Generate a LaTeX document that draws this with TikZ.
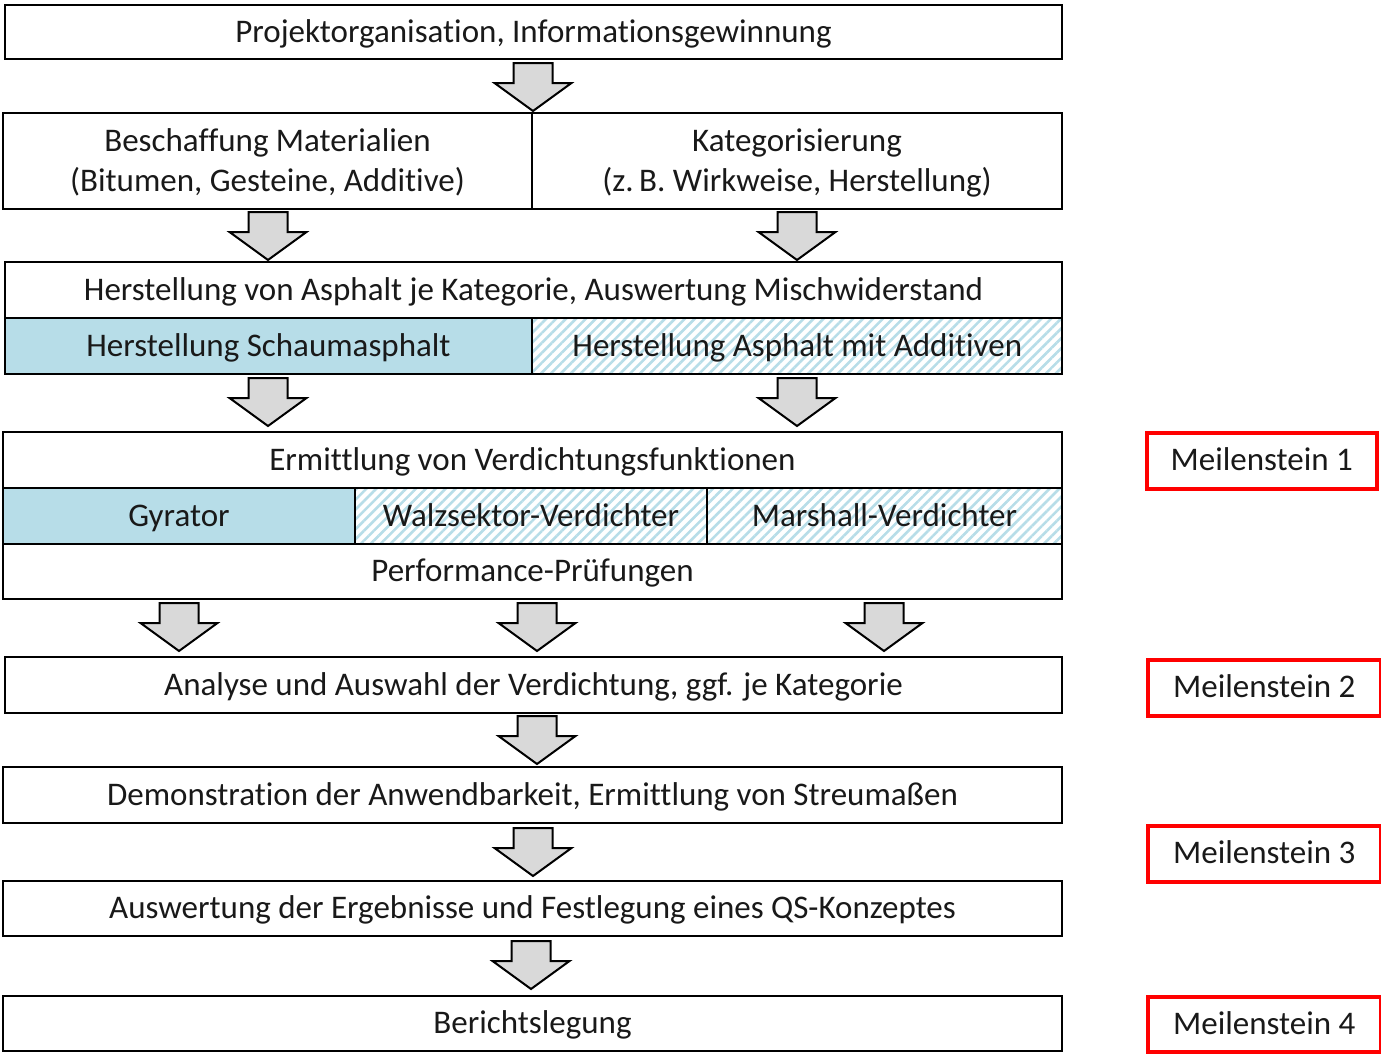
\documentclass[tikz,border=0pt]{standalone}
\usepackage{fontspec}
\setmainfont{Carlito}[Ligatures={NoCommon,NoContextual}]
\usetikzlibrary{patterns.meta}
\definecolor{lblue}{HTML}{B7DDE8}
\definecolor{agray}{HTML}{D9D9D9}
\definecolor{mred}{HTML}{FF0000}
\newcommand\lnstrutA{\rule[-9pt]{0pt}{39pt}}
\newcommand\lnstrutB{\rule[-9pt]{0pt}{31pt}}
\begin{document}
\begin{tikzpicture}[x=1pt,y=-1pt,
  base/.style={draw=black, line width=2pt, inner sep=0pt, anchor=north west,
    font=\fontsize{33}{40}\selectfont, align=center, text=black!90},
  box/.style={base, text height=26, text depth=6},
  bluebox/.style={box, fill=lblue},
  hatchbox/.style={box, pattern={Lines[angle=45,distance=7pt,line width=2.6pt]}, pattern color=lblue},
  mstone/.style={draw=mred, line width=3.5pt, inner sep=0pt, anchor=north west,
    font=\fontsize{33}{40}\selectfont, text=black!90, text height=26, text depth=6},
  darrow/.pic={\draw[line width=2pt, fill=agray, line join=miter]
     (-19.5,0) -- (19.5,0) -- (19.5,20) -- (38.5,20) -- (0,48) -- (-38.5,20) -- (-19.5,20) -- cycle;}
]
\useasboundingbox (0,0) rectangle (1381,1063);
\fill[white] (0,0) rectangle (1381,1063);

% boxes
\node[box, minimum width=1057, minimum height=54] (b1) at (4,4) {Projektorganisation, Informationsgewinnung};
\node[base, minimum width=529, minimum height=96] (b2l) at (2,112) {\lnstrutA Beschaffung Materialien\\\lnstrutB(Bitumen, Gesteine, Additive)};
\node[base, minimum width=530, minimum height=96] (b2r) at (531,112) {\lnstrutA Kategorisierung\\\lnstrutB(z.\,B. Wirkweise, Herstellung)};
\node[box, minimum width=1057, minimum height=56] (b3) at (4,261) {Herstellung von Asphalt je Kategorie, Auswertung Mischwiderstand};
\node[bluebox, minimum width=527, minimum height=56] (b3l) at (4,317) {Herstellung Schaumasphalt};
\node[hatchbox, minimum width=530, minimum height=56] (b3r) at (531,317) {Herstellung Asphalt mit Additiven};
\node[box, minimum width=1059, minimum height=56] (b4) at (2,431) {Ermittlung von Verdichtungsfunktionen};
\node[bluebox, minimum width=352, minimum height=56] (b4a) at (2,487) {Gyrator};
\node[hatchbox, minimum width=352, minimum height=56] (b4b) at (354,487) {Walzsektor-Verdichter};
\node[hatchbox, minimum width=355, minimum height=56] (b4c) at (706,487) {Marshall-Verdichter};
\node[box, minimum width=1059, minimum height=55] (b4d) at (2,543) {Performance-Prüfungen};
\node[box, minimum width=1057, minimum height=56] (b5) at (4,656) {Analyse und Auswahl der Verdichtung, ggf. je Kategorie};
\node[box, minimum width=1059, minimum height=56] (b6) at (2,766) {Demonstration der Anwendbarkeit, Ermittlung von Streumaßen};
\node[box, minimum width=1059, minimum height=55] (b7) at (2,880) {Auswertung der Ergebnisse und Festlegung eines QS-Konzeptes};
\node[box, minimum width=1059, minimum height=55] (b8) at (2,995) {Berichtslegung};

% milestones
\node[mstone, minimum width=230, minimum height=56] (m1) at (1145,431) {Meilenstein 1};
\node[mstone, minimum width=233, minimum height=56] (m2) at (1146,658) {Meilenstein 2};
\node[mstone, minimum width=233, minimum height=56] (m3) at (1146,824) {Meilenstein 3};
\node[mstone, minimum width=233, minimum height=55] (m4) at (1146,995) {Meilenstein 4};

% block arrows
\pic (a1) at (533,63) {darrow};
\pic (a2) at (268,212) {darrow};
\pic (a3) at (797,212) {darrow};
\pic (a4) at (268,378) {darrow};
\pic (a5) at (797,378) {darrow};
\pic (a6) at (179,603) {darrow};
\pic (a7) at (537,603) {darrow};
\pic (a8) at (884,603) {darrow};
\pic (a9) at (537,716) {darrow};
\pic (a10) at (533,828) {darrow};
\pic (a11) at (531,941) {darrow};
\end{tikzpicture}
\end{document}
